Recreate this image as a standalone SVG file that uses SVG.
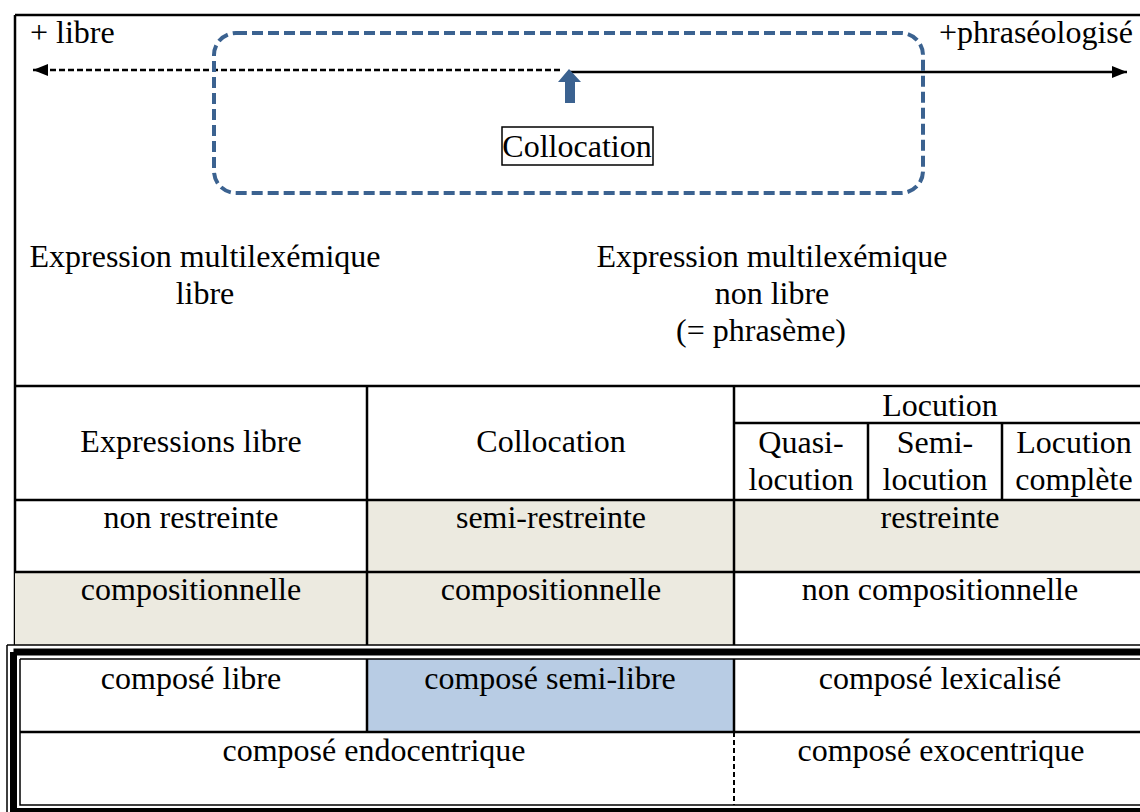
<svg xmlns="http://www.w3.org/2000/svg" width="1140" height="812" viewBox="0 0 1140 812" font-family="'Liberation Serif','DejaVu Serif',serif">
<style>
text{font-family:'Liberation Serif','DejaVu Serif',serif;font-size:32px;fill:#000}
.c{text-anchor:middle}
.ln{stroke:#000;stroke-width:2.5;fill:none}
.beige{fill:#ECEAE0}
.blue{fill:#B8CCE4}
</style>
<defs>
<marker id="ah" viewBox="0 0 10 10" refX="10" refY="5" markerWidth="6" markerHeight="6" markerUnits="strokeWidth" orient="auto-start-reverse">
<path d="M0,1 L10,5 L0,9 z" fill="#000"/>
</marker>
</defs>
<rect width="1140" height="812" fill="#fff"/>

<g id="frame">
<path class="ln" d="M15,15 H1146 M15,15 V645"/>
</g>

<g id="scale">
<text x="30" y="43">+ libre</text>
<text x="1133" y="43" text-anchor="end">+phraséologisé</text>
</g>

<g id="connectors">
<line x1="560" y1="70" x2="33" y2="70" stroke="#000" stroke-width="2.5" stroke-dasharray="6,3" marker-end="url(#ah)"/>
<line x1="570" y1="72" x2="1127" y2="72" stroke="#000" stroke-width="2.5" marker-end="url(#ah)"/>
<path d="M569,69 L581,82 L575,82 L575,103 L565,103 L565,82 L558,82 z" fill="#3B6290"/>
</g>

<g id="collocation-zone">
<rect x="214" y="33" width="709" height="160" rx="22" ry="22" fill="none" stroke="#3B6290" stroke-width="4" stroke-dasharray="11,5"/>
</g>

<g id="collocation-box">
<rect x="502" y="127" width="151" height="38" fill="none" stroke="#000" stroke-width="1.5"/>
<text class="c" x="577" y="157">Collocation</text>
</g>

<g id="expr-libre">
<text class="c" x="205" y="267">Expression multilexémique</text>
<text class="c" x="205" y="304">libre</text>
</g>

<g id="expr-non-libre">
<text class="c" x="772" y="267">Expression multilexémique</text>
<text class="c" x="772" y="304">non libre</text>
<text class="c" x="761" y="341">(= phrasème)</text>
</g>

<g id="table1">
<rect class="beige" x="367" y="500" width="780" height="72"/>
<rect class="beige" x="15" y="572" width="719" height="73"/>
<path class="ln" d="M15,386 H1146 M15,500 H1146 M15,572 H1146 M367,386 V645 M734,386 V645 M734,423 H1146 M868,423 V500 M1002,423 V500"/>
<text class="c" x="191" y="452">Expressions libre</text>
<text class="c" x="551" y="452">Collocation</text>
<text class="c" x="940" y="416">Locution</text>
<text class="c" x="801" y="453">Quasi-</text>
<text class="c" x="801" y="490">locution</text>
<text class="c" x="935" y="453">Semi-</text>
<text class="c" x="935" y="490">locution</text>
<text class="c" x="1074" y="453">Locution</text>
<text class="c" x="1074" y="490">complète</text>
<text class="c" x="191" y="528">non restreinte</text>
<text class="c" x="551" y="528">semi-restreinte</text>
<text class="c" x="940" y="528">restreinte</text>
<text class="c" x="191" y="600">compositionnelle</text>
<text class="c" x="551" y="600">compositionnelle</text>
<text class="c" x="940" y="600">non compositionnelle</text>
</g>

<g id="table2">
<rect class="blue" x="367" y="659" width="367" height="73"/>
<path d="M7,645 H1146 M7,645 V812" stroke="#000" stroke-width="1.5" fill="none"/>
<path d="M13.5,652 H1146 M13.5,652 V811.5 H1146" stroke="#000" stroke-width="7" fill="none"/>
<path d="M20,659 H1146 M20,659 V805 H1146" stroke="#000" stroke-width="1.5" fill="none"/>
<path class="ln" d="M20,732 H1146 M367,659 V732 M734,659 V732"/>
<line x1="734" y1="732" x2="734" y2="805" stroke="#000" stroke-width="2" stroke-dasharray="5,3"/>
<text class="c" x="191" y="689">composé libre</text>
<text class="c" x="550" y="689">composé semi-libre</text>
<text class="c" x="940" y="689">composé lexicalisé</text>
<text class="c" x="374" y="761">composé endocentrique</text>
<text class="c" x="941" y="761">composé exocentrique</text>
</g>
</svg>
